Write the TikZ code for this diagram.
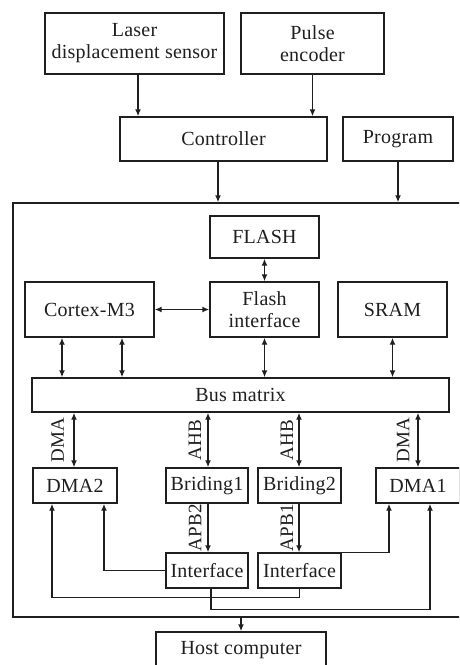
\documentclass[tikz,border=0pt]{standalone}
\usepackage{fontspec}
\setmainfont[LetterSpace=1.2]{Liberation Serif}
\usetikzlibrary{arrows.meta}
\definecolor{ink}{gray}{0.12}
\begin{document}
\begin{tikzpicture}[x=1pt,y=-1pt,
  box/.style={draw=ink, line width=1.4pt, inner sep=0pt, align=center,
              font=\fontsize{20}{22}\selectfont, text=ink},
  arr/.style={draw=ink, line width=1.4pt, -{Latex[length=7pt,width=6pt]}},
  biarr/.style={draw=ink, line width=1.4pt,
                {Latex[length=7pt,width=6pt]}-{Latex[length=7pt,width=6pt]}},
  lbl/.style={rotate=90, font=\fontsize{19}{21}\selectfont, text=ink, inner sep=0pt}]
\clip (0,0) rectangle (459,665);
\fill[white] (0,0) rectangle (459,665);

% inputs and controller
\node[box, minimum width=179, minimum height=61] (laser) at (134.5,43.5) {Laser\\displacement sensor};
\node[box, minimum width=143, minimum height=61] (pulse) at (312.5,43.5) {Pulse\\encoder};
\node[box, minimum width=207, minimum height=44] (ctrl) at (223.5,139) {Controller};
\node[box, minimum width=110, minimum height=44] (prog) at (398,139) {Program};

% microcontroller frame
\node[draw=ink, line width=1.4pt, minimum width=453, minimum height=414, inner sep=0pt] (mcu) at (239.5,410) {};

\node[box, minimum width=109, minimum height=42] (flash) at (264.5,237) {FLASH};
\node[box, minimum width=109, minimum height=55] (flif) at (264.5,309.5) {Flash\\interface};
\node[box, minimum width=129, minimum height=55] (cortex) at (89.5,309.5) {Cortex-M3};
\node[box, minimum width=109, minimum height=55] (sram) at (392.5,309.5) {SRAM};
\node[box, minimum width=417, minimum height=34] (bus) at (240.5,395) {Bus matrix};

\node[box, minimum width=84, minimum height=35] (dma2) at (75,485.5) {DMA2};
\node[box, minimum width=82, minimum height=35] (br1) at (207,485.5) {Briding1};
\node[box, minimum width=83, minimum height=35] (br2) at (299.5,485.5) {Briding2};
\node[box, minimum width=84, minimum height=35] (dma1) at (418,485.5) {DMA1};
\node[box, minimum width=82, minimum height=35] (if1) at (207,570.5) {Interface};
\node[box, minimum width=83, minimum height=35] (if2) at (299.5,570.5) {Interface};

\node[box, minimum width=170, minimum height=36] (host) at (241,650) {Host computer};

% bus labels
\node[lbl] (lDMAa) at (57.5,440) {DMA};
\node[lbl] (lAHBa) at (195,440) {AHB};
\node[lbl] (lAHBb) at (287,440) {AHB};
\node[lbl] (lDMAb) at (403,440) {DMA};
\node[lbl] (lAPB2) at (195,528) {APB2};
\node[lbl] (lAPB1) at (287,528) {APB1};

% x positions of vertical connectors
\coordinate (xLa) at (138,0);
\coordinate (xCt) at (218,0);
\coordinate (xC1) at (62,0);
\coordinate (xC2) at (122,0);
\coordinate (xD2) at (74,0);
\coordinate (xB1) at (208,0);
\coordinate (xB2) at (299,0);
\coordinate (xD1) at (418,0);
\coordinate (xA) at (104,0);
\coordinate (xB) at (52,0);
\coordinate (xC) at (389,0);
\coordinate (xI1) at (211,0);
\coordinate (xD) at (430,0);
\coordinate (xH) at (241,0);

% sensors to controller, controller and program to MCU
\draw[arr] (laser.south -| xLa) -- (ctrl.north -| xLa);
\draw[arr] (pulse.south) -- (ctrl.north -| pulse.south);
\draw[arr] (ctrl.south -| xCt) -- (mcu.north -| xCt);
\draw[arr] (prog.south) -- (mcu.north -| prog.south);

% memory side
\draw[biarr] (flash.south) -- (flif.north);
\draw[biarr] (cortex.east) -- (flif.west);
\draw[biarr] (cortex.south -| xC1) -- (bus.north -| xC1);
\draw[biarr] (cortex.south -| xC2) -- (bus.north -| xC2);
\draw[biarr] (flif.south) -- (bus.north -| flif.south);
\draw[biarr] (sram.south) -- (bus.north -| sram.south);

% bus matrix to DMA and bridges
\draw[biarr] (bus.south -| xD2) -- (dma2.north -| xD2);
\draw[biarr] (bus.south -| xB1) -- (br1.north -| xB1);
\draw[biarr] (bus.south -| xB2) -- (br2.north -| xB2);
\draw[biarr] (bus.south -| xD1) -- (dma1.north -| xD1);
\draw[arr] (br1.south -| xB1) -- (if1.north -| xB1);
\draw[arr] (br2.south -| xB2) -- (if2.north -| xB2);

% peripheral interfaces to DMA controllers
\draw[arr] (if1.west) -| (dma2.south -| xA);
\draw[arr] (if2.south) -- ++(0,9) -| (dma2.south -| xB);
\draw[arr] (if2.north east) -| (dma1.south -| xC);
\draw[arr] (if1.south -| xI1) -- ++(0,21) -| (dma1.south -| xD);

% MCU to host
\draw[arr] (mcu.south -| xH) -- (host.north);
\end{tikzpicture}
\end{document}
